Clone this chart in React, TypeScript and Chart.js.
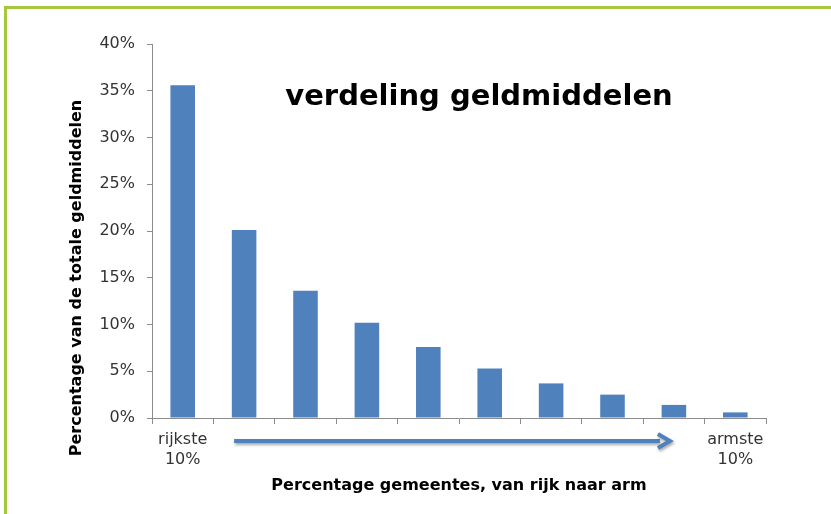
import React, { useEffect, useRef } from "react";
import { Chart, registerables } from "chart.js";

Chart.register(...registerables);

const categories: (string | string[])[] = [
  ["rijkste", "10%"], "", "", "", "", "", "", "", "", ["armste", "10%"],
];
const shares: number[] = [35.6, 20.1, 13.6, 10.2, 7.6, 5.3, 3.7, 2.5, 1.4, 0.6];
const yTicks: number[] = [0, 5, 10, 15, 20, 25, 30, 35, 40];

const chartTitle = "verdeling geldmiddelen";
const xTitle = "Percentage gemeentes, van rijk naar arm";
const yTitle = "Percentage van de totale geldmiddelen";

const BAR = "#4F81BD";
const AXIS = "#8C8C8C";
const FONT = "'DejaVu Sans', Verdana, sans-serif";

const overlay = {
  id: "overlay",
  afterDraw(chart: any) {
    const { ctx, chartArea, scales } = chart;
    const x = scales.x;
    ctx.save();
    ctx.fillStyle = "#000";
    ctx.font = `bold 29px ${FONT}`;
    ctx.textAlign = "center";
    ctx.textBaseline = "alphabetic";
    ctx.fillText(chartTitle, 479, 105);
    ctx.font = `bold 16px ${FONT}`;
    ctx.fillText(xTitle, (chartArea.left + chartArea.right) / 2, 490);
    ctx.translate(81, 278);
    ctx.rotate(-Math.PI / 2);
    ctx.fillText(yTitle, 0, 0);
    ctx.restore();

    // arrow
    const x0 = x.getPixelForValue(1) - 10;
    const x1 = x.getPixelForValue(8) - 4;
    const y = chartArea.bottom + 23;
    ctx.save();
    ctx.shadowColor = "rgba(0,0,0,0.35)";
    ctx.shadowBlur = 3;
    ctx.shadowOffsetX = 1;
    ctx.shadowOffsetY = 2;
    ctx.strokeStyle = BAR;
    ctx.lineWidth = 4;
    ctx.lineCap = "butt";
    ctx.beginPath();
    ctx.moveTo(x0, y);
    ctx.lineTo(x1 - 10, y);
    ctx.stroke();
    ctx.lineJoin = "miter";
    ctx.beginPath();
    ctx.moveTo(x1 - 12, y - 7);
    ctx.lineTo(x1, y);
    ctx.lineTo(x1 - 12, y + 7);
    ctx.stroke();
    ctx.restore();
  },
};

export default function App() {
  const ref = useRef<HTMLCanvasElement>(null);
  useEffect(() => {
    if (!ref.current) return;
    const chart = new Chart(ref.current, {
      type: "bar",
      data: {
        labels: categories,
        datasets: [
          {
            data: shares,
            backgroundColor: BAR,
            borderWidth: 0,
            barPercentage: 0.4,
            categoryPercentage: 1,
          },
        ],
      },
      options: {
        animation: false,
        responsive: false,
        maintainAspectRatio: false,
        layout: { padding: { top: 44, right: 65, left: 0, bottom: 0 } },
        plugins: { legend: { display: false }, tooltip: { enabled: false }, title: { display: false } },
        scales: {
          x: {
            grid: {
              offset: true,
              drawOnChartArea: false,
              drawTicks: true,
              tickLength: 6,
              color: AXIS,
            },
            border: { color: AXIS, width: 1 },
            ticks: {
              autoSkip: false,
              maxRotation: 0,
              minRotation: 0,
              padding: 6,
              color: "#333",
              font: { family: FONT, size: 16, lineHeight: 1.25 },
            },
            afterFit: (s: any) => {
              s.height = 96;
            },
          },
          y: {
            min: 0,
            max: 40,
            afterBuildTicks: (s: any) => {
              s.ticks = yTicks.map((v) => ({ value: v }));
            },
            grid: {
              drawOnChartArea: false,
              drawTicks: true,
              tickLength: 5,
              color: AXIS,
            },
            border: { color: AXIS, width: 1 },
            ticks: {
              padding: 12,
              color: "#333",
              font: { family: FONT, size: 16 },
              callback: (v: any) => `${v}%`,
            },
            afterFit: (s: any) => {
              s.width = 152;
            },
          },
        },
      },
      plugins: [overlay],
    });
    return () => chart.destroy();
  }, []);
  return (
    <div style={{ position: "fixed", left: 0, top: 0, width: 831, height: 514, background: "#fff" }}>
      <div
        style={{
          position: "absolute",
          left: 4,
          top: 6,
          right: 0,
          bottom: 0,
          borderLeft: "3px solid #A6C63C",
          borderTop: "3px solid #A6C63C",
        }}
      />
      <canvas ref={ref} width={831} height={514} style={{ position: "absolute", left: 0, top: 0 }} />
    </div>
  );
}
